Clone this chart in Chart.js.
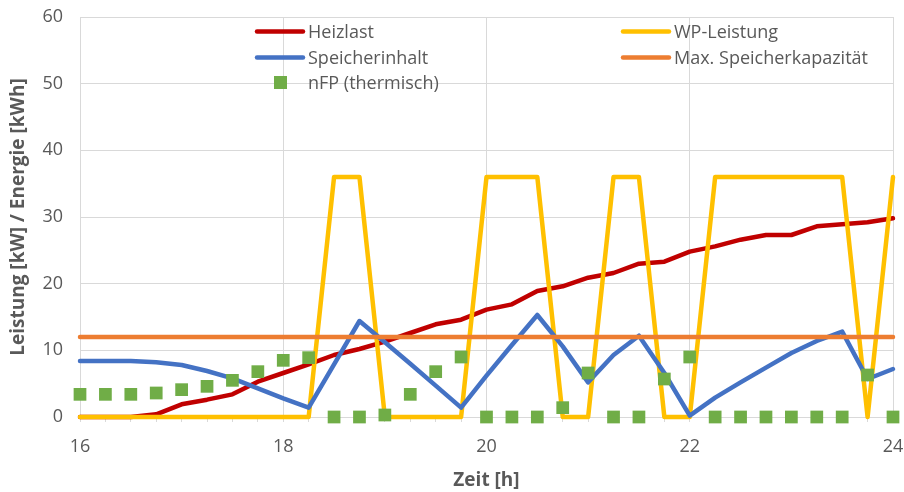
<!DOCTYPE html>
<html>
<head>
<meta charset="utf-8">
<script src="https://cdn.jsdelivr.net/npm/chart.js@4.4.1/dist/chart.umd.min.js"></script>
<style>
  html, body { margin: 0; padding: 0; background: #ffffff; }
  #wrap { position: relative; width: 904px; height: 492px; }
</style>
</head>
<body>
<div id="wrap"><canvas id="c" width="904" height="492"></canvas></div>
<script>
// ---- data ----
const hours = [16, 16.25, 16.5, 16.75, 17, 17.25, 17.5, 17.75, 18, 18.25, 18.5, 18.75,
               19, 19.25, 19.5, 19.75, 20, 20.25, 20.5, 20.75, 21, 21.25, 21.5, 21.75,
               22, 22.25, 22.5, 22.75, 23, 23.25, 23.5, 23.75, 24];
const heizlast = [0, 0, 0, 0.4, 1.9, 2.6, 3.4, 5.3, 6.6, 7.9, 9.3, 10.2,
                  11.3, 12.6, 13.9, 14.6, 16.1, 16.9, 18.9, 19.6, 20.9, 21.6, 23.0, 23.3,
                  24.8, 25.6, 26.6, 27.3, 27.3, 28.6, 28.9, 29.2, 29.8];
const wpLeistung = [0, 0, 0, 0, 0, 0, 0, 0, 0, 0, 36, 36,
                    0, 0, 0, 0, 36, 36, 36, 0, 0, 36, 36, 0,
                    0, 36, 36, 36, 36, 36, 36, 0, 36];
const speicherinhalt = [8.4, 8.4, 8.4, 8.2, 7.8, 6.9, 5.8, 4.3, 2.8, 1.4, 7.9, 14.4,
                        11.2, 8.0, 4.7, 1.4, 6.2, 10.8, 15.3, 10.6, 5.2, 9.3, 12.2, 6.6,
                        0.2, 2.9, 5.2, 7.4, 9.6, 11.4, 12.8, 5.7, 7.2];
const maxSpeicher = [12, 12, 12, 12, 12, 12, 12, 12, 12, 12, 12, 12,
                     12, 12, 12, 12, 12, 12, 12, 12, 12, 12, 12, 12,
                     12, 12, 12, 12, 12, 12, 12, 12, 12];
const nfpThermisch = [3.4, 3.4, 3.4, 3.6, 4.1, 4.6, 5.5, 6.8, 8.5, 8.9, 0, 0,
                      0.3, 3.4, 6.8, 9.0, 0, 0, 0, 1.4, 6.6, 0, 0, 5.7,
                      9.0, 0, 0, 0, 0, 0, 0, 6.3, 0];
const seriesNames = ['Heizlast', 'WP-Leistung', 'Speicherinhalt', 'Max. Speicherkapazität', 'nFP (thermisch)'];
const xTitle = 'Zeit [h]';
const yTitle = 'Leistung [kW] / Energie [kWh]';

const COLORS = { red: '#C00000', yellow: '#FFC000', blue: '#4472C4', orange: '#ED7D31', green: '#70AD47' };
const TEXT = '#595959';
const GRID = '#D9D9D9';
const FONT = "'Open Sans', 'Liberation Sans', sans-serif";

const pts = arr => hours.map((h, i) => ({ x: h, y: arr[i] }));

function lineDs(label, arr, color, order) {
  return {
    label, data: pts(arr), borderColor: color, backgroundColor: color,
    borderWidth: 4.5, pointRadius: 0, pointHoverRadius: 0, tension: 0,
    borderJoinStyle: 'round', borderCapStyle: 'round', order, clip: false
  };
}

const legendItems = [
  { text: seriesNames[0], color: COLORS.red,    type: 'line', col: 0, row: 0 },
  { text: seriesNames[1], color: COLORS.yellow, type: 'line', col: 1, row: 0 },
  { text: seriesNames[2], color: COLORS.blue,   type: 'line', col: 0, row: 1 },
  { text: seriesNames[3], color: COLORS.orange, type: 'line', col: 1, row: 1 },
  { text: seriesNames[4], color: COLORS.green,  type: 'square', col: 0, row: 2 }
];

const legendPlugin = {
  id: 'customLegend',
  afterDraw(chart) {
    const ctx = chart.ctx;
    const colX = [255, 621];
    const rowY = [31.5, 57.5, 82.5];
    ctx.save();
    ctx.font = '18px ' + FONT;
    ctx.textBaseline = 'middle';
    ctx.textAlign = 'left';
    legendItems.forEach(it => {
      const x0 = colX[it.col], y = rowY[it.row];
      if (it.type === 'line') {
        ctx.strokeStyle = it.color;
        ctx.lineWidth = 4.5;
        ctx.lineCap = 'round';
        ctx.beginPath();
        ctx.moveTo(x0 + 2, y);
        ctx.lineTo(x0 + 48, y);
        ctx.stroke();
      } else {
        ctx.fillStyle = it.color;
        ctx.fillRect(x0 + 19, y - 6.5, 13, 13);
      }
      ctx.fillStyle = TEXT;
      ctx.fillText(it.text, x0 + 53, y + 1);
    });
    ctx.restore();
  }
};

new Chart(document.getElementById('c'), {
  type: 'line',
  data: {
    datasets: [
      lineDs(seriesNames[0], heizlast, COLORS.red, 5),
      lineDs(seriesNames[1], wpLeistung, COLORS.yellow, 4),
      lineDs(seriesNames[2], speicherinhalt, COLORS.blue, 3),
      lineDs(seriesNames[3], maxSpeicher, COLORS.orange, 2),
      {
        label: seriesNames[4], data: pts(nfpThermisch), showLine: false,
        pointStyle: 'rect', pointRadius: 9, pointHoverRadius: 9, pointBorderWidth: 0,
        backgroundColor: COLORS.green, borderColor: COLORS.green, order: 1, clip: false
      }
    ]
  },
  options: {
    responsive: false,
    animation: false,
    events: [],
    layout: { padding: { left: 0, right: 11, top: 17, bottom: 0 } },
    plugins: { legend: { display: false }, tooltip: { enabled: false } },
    scales: {
      x: {
        type: 'linear', min: 16, max: 24,
        afterFit: s => { s.height = 75; s.paddingLeft = 0; s.paddingRight = 0; },
        ticks: {
          stepSize: 0.25, autoSkip: false, maxRotation: 0, minRotation: 0,
          color: TEXT, font: { family: FONT, size: 18 }, padding: 14,
          callback: v => (Math.abs(v % 2) < 1e-9 ? String(v) : '')
        },
        grid: {
          color: c => (c.tick && Math.abs(c.tick.value % 2) < 1e-9) ? GRID : 'rgba(0,0,0,0)',
          tickColor: GRID, tickLength: 5, lineWidth: 1
        },
        border: { display: true, color: GRID, width: 1 },
        title: { display: true, text: xTitle, color: TEXT, font: { family: FONT, size: 19, weight: 'bold' }, padding: { top: 4, bottom: 0 } }
      },
      y: {
        min: 0, max: 60,
        afterFit: s => { s.width = 80; s.paddingTop = 0; s.paddingBottom = 0; },
        ticks: { stepSize: 10, color: TEXT, font: { family: FONT, size: 18 }, padding: 17 },
        grid: { color: GRID, lineWidth: 1, drawTicks: false },
        border: { display: false },
        title: { display: true, text: yTitle, color: TEXT, font: { family: FONT, size: 19, weight: 'bold' }, padding: { top: 7, bottom: 0 } }
      }
    }
  },
  plugins: [legendPlugin]
});
</script>
</body>
</html>
